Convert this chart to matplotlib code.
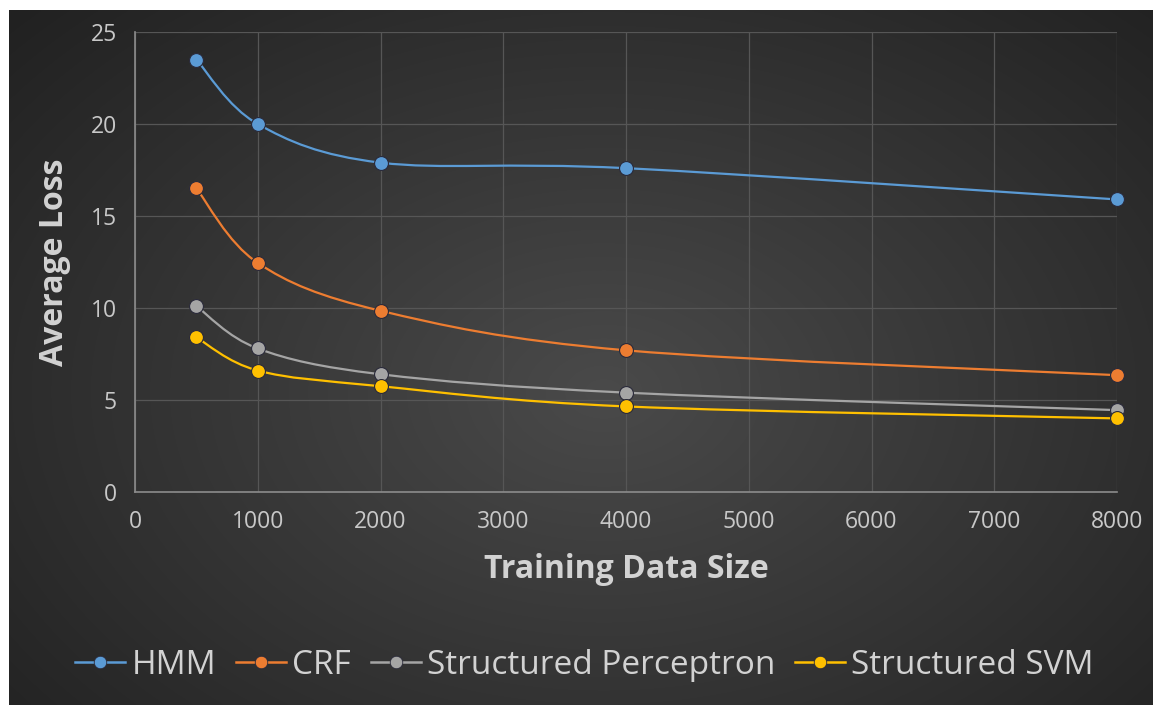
import numpy as np
import matplotlib
matplotlib.use("Agg")
import matplotlib.pyplot as plt
from matplotlib.path import Path
from matplotlib.patches import PathPatch
from matplotlib.lines import Line2D

# Data
train_sizes = [500, 1000, 2000, 4000, 8000]
hmm = [23.5, 20.0, 17.9, 17.6, 15.9]
crf = [16.5, 12.45, 9.85, 7.7, 6.35]
perceptron = [10.1, 7.8, 6.4, 5.4, 4.45]
svm = [8.4, 6.6, 5.75, 4.65, 4.0]
series_names = ["HMM", "CRF", "Structured Perceptron", "Structured SVM"]
series_values = [hmm, crf, perceptron, svm]
series_colors = ["#5B9BD5", "#ED7D31", "#A5A5A5", "#FFC000"]
x_ticks = [0, 1000, 2000, 3000, 4000, 5000, 6000, 7000, 8000]
y_ticks = [0, 5, 10, 15, 20, 25]

plt.rcParams['font.family'] = ['Open Sans', 'DejaVu Sans']

W, H = 1153, 705
fig = plt.figure(figsize=(W / 100, H / 100), dpi=100)
fig.patch.set_facecolor("white")

# Dark radial-gradient backdrop
bg = fig.add_axes([9 / W, 0, 1 - 9 / W, 1 - 10 / H])
bg.set_axis_off()
gy, gx = np.mgrid[0:1:400j, 0:1:700j]
r = np.sqrt(((gx - 0.52) / 0.75) ** 2 + ((gy - 0.55) / 0.85) ** 2)
shade = np.clip(0.29 - 0.17 * r, 0.13, 0.30)
bg.imshow(np.dstack([shade, shade, shade]), aspect="auto", extent=[0, 1, 0, 1],
          interpolation="bicubic")
bg.set_xlim(0, 1)
bg.set_ylim(0, 1)

ax = fig.add_axes([135 / W, 1 - 492 / H, (1117 - 135) / W, (492 - 32) / H])
ax.set_facecolor("none")
ax.set_xlim(0, 8000)
ax.set_ylim(0, 25)
ax.set_xticks(x_ticks)
ax.set_yticks(y_ticks)
ax.grid(True, color="#565656", linewidth=0.9)
ax.set_axisbelow(True)
for s in ["top", "right"]:
    ax.spines[s].set_visible(False)
for s in ["left", "bottom"]:
    ax.spines[s].set_color("#8c8c8c")
    ax.spines[s].set_linewidth(1.2)
ax.tick_params(length=0, colors="#c8c8c8", labelsize=16.5, pad=13)
ax.set_xlabel("Training Data Size", fontsize=23, fontweight="bold", color="#d2d2d2", labelpad=14)
ax.set_ylabel("Average Loss", fontsize=23, fontweight="bold", color="#d2d2d2", labelpad=14)


def smooth_path(xs, ys):
    """Catmull-Rom style cubic Bezier through the points."""
    pts = np.column_stack([xs, ys]).astype(float)
    n = len(pts)
    verts = [pts[0]]
    codes = [Path.MOVETO]
    for i in range(n - 1):
        p0 = pts[i - 1] if i > 0 else pts[i]
        p1 = pts[i]
        p2 = pts[i + 1]
        p3 = pts[i + 2] if i + 2 < n else pts[i + 1]
        c1 = p1 + (p2 - p0) / 6.0
        c2 = p2 - (p3 - p1) / 6.0
        verts += [c1, c2, p2]
        codes += [Path.CURVE4] * 3
    return Path(verts, codes)


handles = []
for name, vals, col in zip(series_names, series_values, series_colors):
    ax.add_patch(PathPatch(smooth_path(train_sizes, vals), facecolor="none",
                           edgecolor=col, linewidth=1.6, zorder=3))
    ax.plot(train_sizes, vals, linestyle="none", marker="o", markersize=10,
            markerfacecolor=col, markeredgecolor="#2a2a3a", markeredgewidth=0.8,
            zorder=4, clip_on=False)
    handles.append(Line2D([], [], color=col, linewidth=1.8, marker="o", markersize=9,
                          markerfacecolor=col, markeredgecolor="#2a2a3a",
                          markeredgewidth=0.6))

leg = fig.legend(handles, series_names, loc="center", bbox_to_anchor=(0.507, 1 - 665 / H),
                 ncol=4, frameon=False, fontsize=24, handlelength=1.5, handletextpad=0.18,
                 columnspacing=0.6, labelcolor="#d2d2d2")

fig.savefig("out.png", dpi=100, facecolor=fig.get_facecolor())
